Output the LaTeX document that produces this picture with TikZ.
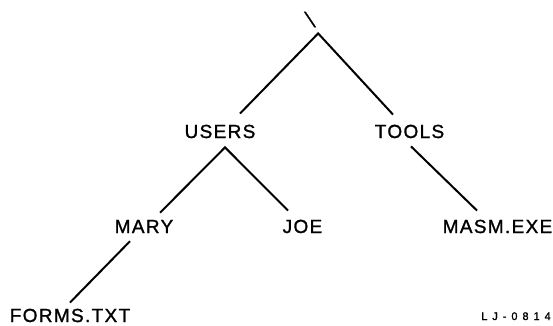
\documentclass[tikz,border=0pt]{standalone}
\usepackage{fontspec}
\setmainfont{Liberation Sans}[LetterSpace=7,FakeBold=1.2]
\usetikzlibrary{calc}
\begin{document}
\begin{tikzpicture}[x=1pt,y=-1pt,
  lbl/.style={font=\fontsize{19}{19}\selectfont, inner sep=0pt, anchor=base},
  small/.style={font=\fontsize{11}{11}\selectfont\addfontfeature{LetterSpace=45}, inner sep=0pt, anchor=base},
  edge/.style={line width=2pt}]
\useasboundingbox (0,0) rectangle (553,325);
\node[lbl, font=\fontsize{21}{21}\selectfont, xslant=-0.4, transform shape] (root) at (313,27) {\textbackslash};
\node[lbl] (users) at (220,138) {USERS};
\node[lbl] (tools) at (409.5,138) {TOOLS};
\node[lbl] (mary) at (144,233) {MARY};
\node[lbl] (joe) at (302.5,233) {JOE};
\node[lbl] (masm) at (497.5,233) {MASM.EXE};
\node[lbl] (forms) at (70,322) {FORMS.TXT};
\node[small] (lj) at (516,320) {LJ-0814};
\coordinate (rootapex) at ($(root.south)+(5,6)$);
\coordinate (usersapex) at ($(users.south)+(5,9)$);
\draw[edge] ($(users.north)+(20,-11)$) -- (rootapex) -- ($(tools.north)+(-16.5,-10)$);
\draw[edge] ($(mary.north)+(16,-7)$) -- (usersapex) -- ($(joe.north)+(-14.5,-9)$);
\draw[edge] ($(tools.south)+(1.5,8)$) -- ($(masm.north)+(-20.5,-9)$);
\draw[edge] ($(mary.south)+(-14,8)$) -- ($(forms.north)+(0,-6)$);
\end{tikzpicture}
\end{document}
